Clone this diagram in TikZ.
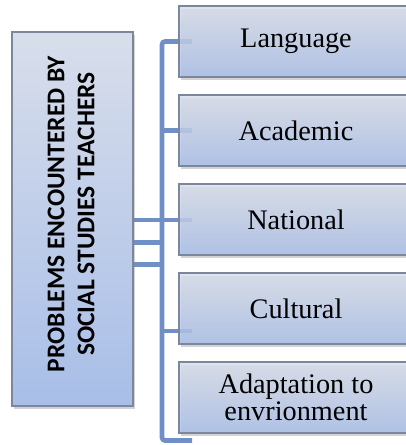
\documentclass[tikz,border=0pt]{standalone}
\usepackage{fontspec}
\setmainfont{Liberation Serif}
\newfontfamily\carlito{Carlito}
\usetikzlibrary{shadows,backgrounds}
\definecolor{boxtop}{HTML}{D8DEEB}
\definecolor{boxbot}{HTML}{A8BEE8}
\definecolor{boxline}{HTML}{7C879C}
\definecolor{linkblue}{HTML}{6F8FC6}
\tikzset{
  catbox/.style={draw=boxline, line width=1.1pt, top color=boxtop, bottom color=boxbot,
    fill opacity=0.82, text opacity=1,
    drop shadow={opacity=0.35, shadow xshift=2pt, shadow yshift=-2.5pt},
    minimum width=234pt, minimum height=71pt, inner sep=0pt, align=center,
    font=\fontsize{28.3}{27.5}\selectfont},
  mainbox/.style={draw=boxline, line width=1.1pt, top color=boxtop, bottom color=boxbot,
    drop shadow={opacity=0.35, shadow xshift=2pt, shadow yshift=-2.5pt},
    minimum width=121pt, minimum height=374pt, inner sep=0pt},
  link/.style={draw=linkblue, line width=4.6pt, rounded corners=3pt}
}
\begin{document}
\begin{tikzpicture}[x=1pt,y=-1pt]
\useasboundingbox (0,0) rectangle (406,445);
\clip (0,0) rectangle (406,445);
\node[mainbox] (m) at (72.5,219) {};
\node[rotate=90, align=center, font=\carlito\bfseries\fontsize{25.5}{30}\selectfont] (mt) at (71,214) {PROBLEMS ENCOUNTERED BY\\SOCIAL STUDIES TEACHERS};
\node[catbox] (b1) at (296,41.5) {Language};
\node[catbox] (b2) at (296,130.5) {Academic};
\node[catbox] (b3) at (296,219.5) {National};
\node[catbox] (b4) at (296,308.5) {Cultural};
\node[catbox] (b5) at (296,397.5) {Adaptation to\\envrionment};
\coordinate (t) at (162,41.5);
\coordinate (bt) at (162,440.5);
\coordinate (e1) at (192,41.5);
\coordinate (e5) at (192,440.5);
\coordinate (j2) at (162,130.5);
\coordinate (e2) at (192,130.5);
\coordinate (j4) at (162,331);
\coordinate (e4) at (192,331);
\coordinate (s1) at (133,220);
\coordinate (e3) at (192,220);
\coordinate (s2) at (133,242.5);
\coordinate (j5) at (162,242.5);
\coordinate (s3) at (133,264.5);
\coordinate (j6) at (162,264.5);
\begin{scope}[on background layer]
\draw[link] (e1) -- (t) -- (bt) -- (e5);
\draw[link] (j2) -- (e2);
\draw[link] (j4) -- (e4);
\draw[link] (s1) -- (e3);
\draw[link] (s2) -- (j5);
\draw[link] (s3) -- (j6);
\end{scope}
\end{tikzpicture}
\end{document}
